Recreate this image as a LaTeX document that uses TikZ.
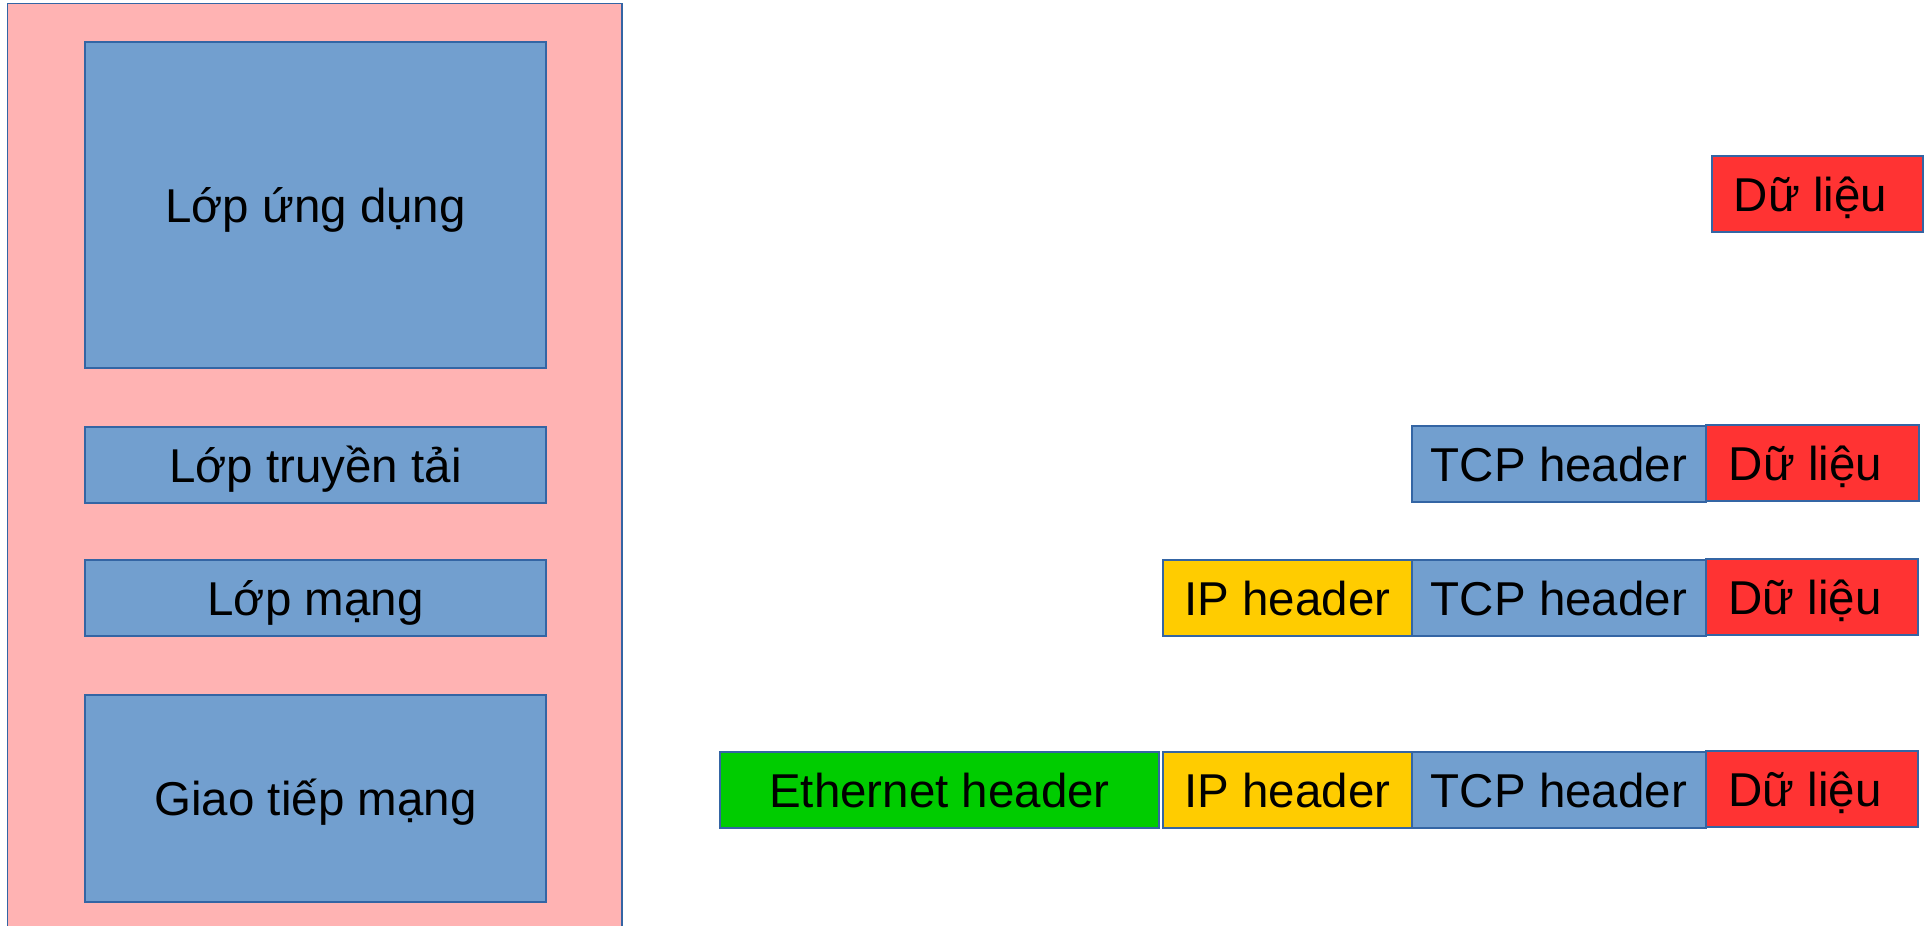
\documentclass[tikz,border=0pt]{standalone}
\usepackage{fontspec}
\setmainfont{Liberation Sans}
\definecolor{edge}{HTML}{3465A4}
\definecolor{layerbg}{HTML}{FFB3B3}
\definecolor{layerfill}{HTML}{729FCF}
\definecolor{datared}{HTML}{FF3333}
\definecolor{ipyellow}{HTML}{FFCC00}
\definecolor{ethgreen}{HTML}{00CC00}
\tikzset{
  cell/.style={draw=edge, line width=1.2pt, inner sep=0pt, outer sep=0pt,
    font=\fontsize{47.5}{57}\selectfont, text height=34pt, text depth=0pt,
    anchor=center},
  layer/.style={cell, fill=layerfill, minimum width=461pt},
  % payload text sits a little left of centre
  datacell/.style={cell, fill=datared, minimum height=76pt,
    execute at begin node=\hspace*{-14pt}},
  tcpcell/.style={cell, fill=layerfill, minimum width=294pt, minimum height=76pt},
  ipcell/.style={cell, fill=ipyellow, minimum width=249pt, minimum height=76pt},
  ethcell/.style={cell, fill=ethgreen, minimum width=439pt, minimum height=76pt},
}
\begin{document}
\begin{tikzpicture}[x=1pt, y=-1pt]
  \useasboundingbox (0,0) rectangle (1931,926);
  \clip (0,0) rectangle (1931,926);

  % protocol stack
  \node[cell, fill=layerbg, minimum width=614.5pt, minimum height=936.5pt] (stack) at (314.75,471.75) {};
  \node[layer, minimum height=326pt] (app)  at (315.5,205)   {Lớp ứng dụng};
  \node[layer, minimum height=76pt]  (tran) at (315.5,465)   {Lớp truyền tải};
  \node[layer, minimum height=76pt]  (net)  at (315.5,598)   {Lớp mạng};
  \node[layer, minimum height=207pt] (link) at (315.5,798.5) {Giao tiếp mạng};

  % application data
  \node[datacell, minimum width=211pt] (d1) at (1817.5,194) {Dữ liệu};

  % transport segment
  \node[tcpcell] (tcp2) at (1559,464) {TCP header};
  \node[datacell, minimum width=213pt] (d2) at (1812.5,463) {Dữ liệu};

  % network packet
  \node[ipcell]  (ip3)  at (1287.5,598) {IP header};
  \node[tcpcell] (tcp3) at (1559,598)   {TCP header};
  \node[datacell, minimum width=212pt] (d3) at (1812,597) {Dữ liệu};

  % link frame
  \node[ethcell] (eth4) at (939.5,790)  {Ethernet header};
  \node[ipcell]  (ip4)  at (1287.5,790) {IP header};
  \node[tcpcell] (tcp4) at (1559,790)   {TCP header};
  \node[datacell, minimum width=212pt] (d4) at (1812,789) {Dữ liệu};
\end{tikzpicture}
\end{document}
